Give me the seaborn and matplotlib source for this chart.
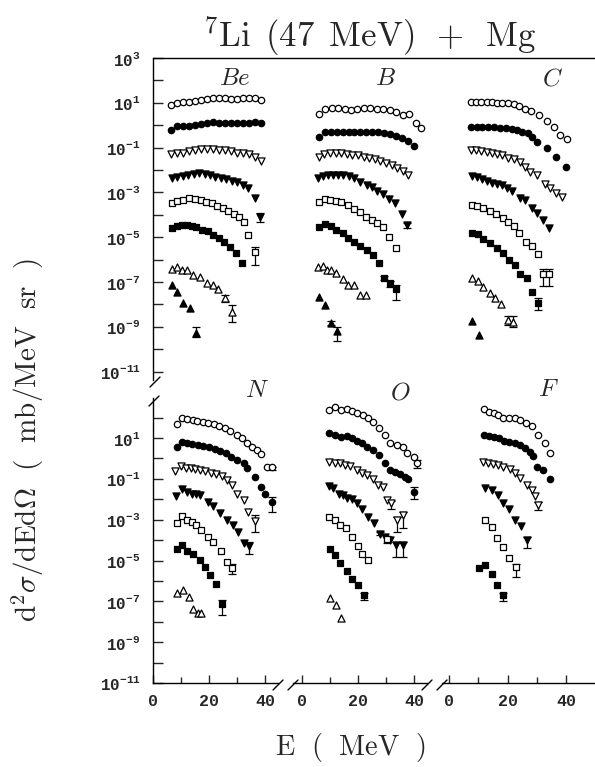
import numpy as np
import pandas as pd
import matplotlib
matplotlib.use("Agg")
import matplotlib.pyplot as plt
import seaborn as sns
from matplotlib.lines import Line2D
from matplotlib.ticker import NullLocator, FixedLocator

sns.set_style("white")
plt.rcParams["font.family"] = ["Liberation Mono", "DejaVu Sans"]
plt.rcParams["mathtext.fontset"] = "cm"

# ---------------- data : Be ----------------
be_oc_E = [6.4, 8.5, 10.6, 12.8, 15.0, 17.1, 19.2, 21.4, 23.5, 25.6, 27.8, 29.9, 32.1, 34.2, 36.4, 38.5]
be_oc_V = [8, 10, 11, 11, 12, 13, 15, 16, 16, 16, 15, 15, 16, 16, 17, 14]
be_fc_E = [6.4, 8.5, 10.6, 12.8, 15.0, 17.1, 19.2, 21.4, 23.5, 25.6, 27.8, 29.9, 32.1, 34.2, 36.4, 38.5]
be_fc_V = [0.6, 0.9, 0.9, 0.9, 1.0, 1.1, 1.2, 1.4, 1.3, 1.3, 1.3, 1.2, 1.2, 1.3, 1.4, 1.2]
be_odt_E = [6.4, 8.5, 10.6, 12.8, 15.0, 17.1, 19.2, 21.4, 23.5, 25.6, 27.8, 29.9, 32.1, 34.2, 36.4, 38.5]
be_odt_V = [0.05, 0.06, 0.06, 0.07, 0.08, 0.09, 0.09, 0.09, 0.08, 0.08, 0.07, 0.06, 0.06, 0.05, 0.04, 0.025]
be_fdt_E = [6.8, 8.7, 10.7, 12.6, 14.6, 16.5, 18.4, 20.4, 22.3, 24.3, 26.2, 28.1, 30.1, 32.0, 34.0, 36.4, 38.2]
be_fdt_V = [4.3e-3, 5e-3, 5.5e-3, 6e-3, 6.5e-3, 7e-3, 6.5e-3, 6e-3, 5e-3, 4.5e-3, 4e-3, 3.3e-3, 2.8e-3, 2.2e-3, 1.5e-3, 5.5e-4, 8.3e-5]
be_os_E = [6.7, 8.7, 10.8, 13.0, 15.0, 17.0, 18.9, 21.0, 23.0, 25.1, 26.9, 28.9, 30.8, 32.5, 34.0, 36.4]
be_os_V = [3.5e-4, 4e-4, 4.5e-4, 5.5e-4, 5e-4, 4.5e-4, 3.8e-4, 3.2e-4, 2.6e-4, 2e-4, 1.5e-4, 1.1e-4, 8e-5, 5e-5, 1.3e-5, 2.2e-6]
be_fs_E = [6.8, 8.5, 10.3, 12.0, 13.8, 15.5, 17.5, 19.5, 21.5, 23.5, 25.5, 27.5, 29.5, 31.7]
be_fs_V = [2.7e-5, 3.2e-5, 3.5e-5, 3.5e-5, 3.3e-5, 2.8e-5, 2.2e-5, 1.8e-5, 1.3e-5, 9e-6, 6e-6, 3.5e-6, 2e-6, 7e-7]
be_out_E = [6.7, 8.5, 10.2, 12.0, 14.4, 16.8, 19.2, 21.3, 23.3, 25.7, 28.1]
be_out_V = [4e-7, 4.5e-7, 3.5e-7, 3.3e-7, 2e-7, 1.7e-7, 8.7e-8, 7.4e-8, 4.7e-8, 1.9e-8, 4.7e-9]
be_fut_E = [6.7, 8.7, 10.8, 13.1, 15.2]
be_fut_V = [7.4e-8, 3.7e-8, 1.2e-8, 6.6e-9, 5.1e-10]

# ---------------- data : B ----------------
b_oc_E = [6.0, 8.3, 10.6, 12.9, 15.2, 17.5, 19.8, 22.1, 24.4, 26.7, 29.0, 31.3, 33.6, 35.9, 38.2, 40.5, 42.6]
b_oc_V = [3.1, 5.3, 5.6, 5.6, 5.3, 5.0, 5.3, 5.6, 5.6, 5.5, 5.3, 4.6, 4.0, 2.9, 3.2, 1.3, 0.72]
b_fc_E = [6.0, 8.1, 10.2, 12.4, 14.5, 16.6, 18.7, 20.8, 23.0, 25.1, 27.2, 29.3, 31.4, 33.6, 35.7, 37.8, 39.9]
b_fc_V = [0.31, 0.48, 0.52, 0.52, 0.52, 0.52, 0.52, 0.5, 0.5, 0.5, 0.48, 0.45, 0.4, 0.34, 0.28, 0.2, 0.12]
b_odt_E = [6.0, 8.0, 10.0, 12.0, 14.0, 16.0, 18.0, 20.0, 22.0, 24.0, 26.0, 28.0, 30.0, 32.0, 34.0, 36.0, 37.9]
b_odt_V = [0.039, 0.05, 0.055, 0.055, 0.055, 0.05, 0.048, 0.045, 0.04, 0.035, 0.03, 0.025, 0.02, 0.016, 0.012, 0.009, 0.006]
b_fdt_E = [5.8, 7.6, 9.4, 11.2, 13.0, 14.8, 16.6, 18.4, 20.7, 23.1, 24.9, 26.9, 29.0, 31.2, 33.2, 35.6, 37.4]
b_fdt_V = [4.3e-3, 5.2e-3, 6e-3, 6e-3, 6e-3, 5.8e-3, 5.2e-3, 4.6e-3, 3.0e-3, 2.2e-3, 1.7e-3, 1.2e-3, 8.5e-4, 4.9e-4, 3.5e-4, 1.1e-4, 3.5e-5]
b_os_E = [6.2, 8.2, 10.0, 12.0, 14.1, 16.5, 18.5, 20.7, 22.8, 24.9, 26.9, 29.0, 31.2, 33.5]
b_os_V = [3.6e-4, 4.9e-4, 4.6e-4, 4e-4, 3.6e-4, 2.7e-4, 1.9e-4, 1.3e-4, 8e-5, 5.9e-5, 4.3e-5, 3e-5, 1.05e-5, 3.4e-6]
b_fs_E = [6.2, 8.2, 10.2, 12.3, 14.5, 16.5, 18.5, 20.7, 23.1, 25.2, 27.3, 29.3, 31.4, 33.6]
b_fs_V = [3e-5, 3.9e-5, 3.2e-5, 2.2e-5, 1.6e-5, 9.5e-6, 6.3e-6, 4.1e-6, 2.7e-6, 1.6e-6, 7.3e-7, 1.45e-7, 8.6e-8, 4.7e-8]
b_out_E = [5.8, 7.6, 9.0, 10.5, 12.3, 14.5, 16.5, 18.5, 20.7, 22.8]
b_out_V = [4.5e-7, 5.1e-7, 3.6e-7, 3.5e-7, 2.4e-7, 1.3e-7, 7.4e-8, 7e-8, 2.6e-8, 2.6e-8]
b_fut_E = [6.2, 8.2, 10.2, 12.6]
b_fut_V = [2.2e-8, 9.3e-9, 1.5e-9, 6.4e-10]

# ---------------- data : C ----------------
c_oc_E = [7.4, 9.2, 11.0, 12.8, 14.6, 16.4, 18.2, 20.0, 22.0, 24.0, 26.0, 28.0, 30.7, 33.3, 35.9, 37.8, 40.4]
c_oc_V = [10.5, 10.5, 10.5, 10.5, 10.5, 10.2, 10, 9.5, 8.5, 7, 5.5, 4.3, 2.9, 1.6, 0.85, 0.36, 0.23]
c_fc_E = [7.4, 9.4, 11.4, 13.4, 15.4, 17.4, 19.4, 21.4, 23.2, 25.0, 26.8, 28.4, 30.0, 33.3, 36.5, 39.8]
c_fc_V = [0.85, 0.85, 0.82, 0.82, 0.8, 0.78, 0.72, 0.65, 0.58, 0.5, 0.44, 0.3, 0.18, 0.093, 0.039, 0.014]
c_odt_E = [7.4, 9.2, 11.0, 12.8, 14.6, 16.4, 18.2, 20.0, 22.0, 24.2, 26.0, 27.6, 29.9, 32.8, 34.5, 36.5, 38.5]
c_odt_V = [0.077, 0.075, 0.07, 0.065, 0.06, 0.05, 0.045, 0.035, 0.03, 0.023, 0.013, 8.4e-3, 6e-3, 2.3e-3, 1.5e-3, 9.7e-4, 6e-4]
c_fdt_E = [7.7, 9.4, 11.2, 12.9, 14.6, 16.3, 18.0, 19.7, 21.4, 24.2, 25.9, 28.2, 30.1, 32.2, 34.2]
c_fdt_V = [5.3e-3, 4.7e-3, 3.8e-3, 3.3e-3, 2.7e-3, 2.3e-3, 2.1e-3, 1.5e-3, 1.2e-3, 5.5e-4, 4.5e-4, 1.95e-4, 1.2e-4, 5.9e-5, 2.5e-5]
c_os_E = [7.7, 9.4, 11.7, 14.0, 16.0, 18.3, 20.2, 22.2, 24.0, 26.3, 28.2, 30.5, 32.2, 34.2]
c_os_V = [2.7e-4, 2.5e-4, 1.95e-4, 1.5e-4, 1.1e-4, 7e-5, 4.9e-5, 3.3e-5, 1.6e-5, 6.3e-6, 4.1e-6, 1.8e-6, 2.3e-7, 2.3e-7]
c_fs_E = [7.7, 10.0, 11.7, 14.0, 16.3, 18.3, 20.6, 22.5, 24.2, 26.5, 28.2, 30.5]
c_fs_V = [1.6e-5, 1.4e-5, 8e-6, 5.6e-6, 3.2e-6, 1.9e-6, 9.6e-7, 5.8e-7, 2.3e-7, 1.45e-7, 3.7e-8, 1.1e-8]
c_out_E = [7.9, 9.8, 11.5, 14.0, 15.6, 17.6, 20.2, 21.9]
c_out_V = [1.45e-7, 1.1e-7, 6.2e-8, 3.3e-8, 1.9e-8, 1e-8, 2e-9, 1.7e-9]
c_fut_E = [7.9, 10.2]
c_fut_V = [1.9e-9, 4.3e-10]

# ---------------- data : N ----------------
n_oc_E = [8.5, 10.2, 12.0, 14.2, 15.8, 17.7, 19.8, 21.8, 23.7, 25.7, 27.5, 29.9, 31.7, 33.5, 35.2, 37.0, 38.5, 40.6, 42.4]
n_oc_V = [49, 93, 85, 76, 70, 63, 56, 49, 40, 30, 22, 14, 10, 5.9, 3.8, 2.6, 1.6, 0.39, 0.36]
n_fc_E = [8.5, 10.2, 12.0, 14.0, 16.0, 18.0, 20.0, 22.0, 24.0, 26.0, 28.0, 29.9, 32.3, 33.7, 36.4, 38.5, 40.0, 42.4]
n_fc_V = [3.5, 6.6, 5.9, 5.3, 4.8, 4.2, 3.6, 3.0, 2.4, 1.8, 1.2, 0.83, 0.57, 0.33, 0.126, 0.041, 0.019, 7.6e-3]
n_odt_E = [7.9, 9.9, 11.8, 13.5, 15.0, 16.8, 18.6, 20.6, 22.5, 24.5, 26.3, 28.1, 30.1, 32.3, 34.0, 36.4]
n_odt_V = [0.25, 0.43, 0.33, 0.33, 0.3, 0.27, 0.23, 0.2, 0.17, 0.138, 0.088, 0.05, 0.019, 9.2e-3, 2.4e-3, 8.9e-4]
n_fdt_E = [8.2, 10.2, 12.0, 13.8, 15.4, 16.8, 19.8, 21.5, 23.9, 26.5, 28.5, 30.5, 32.5, 34.4]
n_fdt_V = [0.0145, 0.031, 0.023, 0.019, 0.019, 0.016, 7.6e-3, 4.7e-3, 2.2e-3, 1.0e-3, 5.5e-4, 2.6e-4, 7.4e-5, 5.1e-5]
n_os_E = [8.5, 10.2, 12.0, 13.8, 15.5, 17.3, 19.8, 21.5, 24.2, 26.5, 28.3]
n_os_V = [7.1e-4, 1.5e-3, 9.5e-4, 7.9e-4, 5.5e-4, 3.3e-4, 1.4e-4, 8.3e-5, 3e-5, 8.7e-6, 4.1e-6]
n_fs_E = [8.5, 10.2, 12.2, 14.2, 16.6, 18.6, 20.4, 22.5, 24.5]
n_fs_V = [3.5e-5, 5.6e-5, 3e-5, 2.1e-5, 1.05e-5, 4.9e-6, 1.9e-6, 6.9e-7, 7.2e-8]
n_out_E = [8.5, 10.7, 12.7, 14.4, 15.9, 17.0]
n_out_V = [2.5e-7, 3.5e-7, 1.55e-7, 4e-8, 2.7e-8, 2.7e-8]

# ---------------- data : O ----------------
o_oc_E = [9.8, 11.8, 13.8, 16.0, 17.7, 19.5, 21.7, 23.7, 25.5, 27.6, 29.6, 31.4, 33.8, 36.0, 37.6, 39.8, 41.0]
o_oc_V = [236, 340, 236, 256, 200, 163, 130, 93, 63, 30, 14, 5.5, 4.8, 3.5, 1.9, 1.2, 0.57]
o_fc_E = [9.8, 11.8, 13.8, 16.0, 17.7, 19.5, 21.3, 23.1, 25.2, 27.6, 29.6, 31.4, 33.2, 35.0, 36.8, 37.9, 39.8]
o_fc_V = [17, 14, 11.6, 12, 9.6, 7.4, 5.5, 3.8, 2.6, 1.47, 0.57, 0.27, 0.22, 0.17, 0.126, 0.093, 0.023]
o_odt_E = [9.8, 11.8, 13.5, 15.3, 17.0, 19.5, 21.3, 23.1, 25.2, 27.2, 29.0, 30.2, 31.7, 34.0, 36.2]
o_odt_V = [0.69, 0.57, 0.57, 0.48, 0.43, 0.27, 0.2, 0.155, 0.093, 0.05, 0.038, 9.2e-3, 6.3e-3, 9.5e-4, 1.7e-3]
o_fdt_E = [9.8, 11.2, 13.3, 14.8, 16.2, 17.7, 19.5, 21.3, 23.7, 25.7, 27.9, 29.6, 31.4, 33.5, 35.9]
o_fdt_V = [0.045, 0.034, 0.019, 0.016, 0.012, 0.01, 6.3e-3, 3.2e-3, 1.4e-3, 6.6e-4, 2.1e-4, 1.35e-4, 1e-4, 5.6e-5, 5.6e-5]
o_os_E = [9.8, 11.8, 13.5, 15.6, 17.7, 20.0, 21.5, 23.7, 30.2]
o_os_V = [1.3e-3, 9.5e-4, 5.5e-4, 3.7e-4, 1.45e-4, 5.1e-5, 2.2e-5, 1.1e-5, 1.07e-4]
o_fs_E = [10.0, 11.8, 13.5, 16.0, 17.7, 20.0, 22.0]
o_fs_V = [3.5e-5, 1.8e-5, 7.2e-6, 3.2e-6, 1.3e-6, 6.3e-7, 2e-7]
o_out_E = [10.0, 12.1, 13.8]
o_out_V = [1.4e-7, 6.5e-8, 1.45e-8]

# ---------------- data : F ----------------
f_oc_E = [11.9, 13.8, 15.4, 16.8, 18.5, 20.6, 22.5, 24.2, 26.3, 28.2, 30.5, 32.8, 34.5]
f_oc_V = [256, 195, 163, 134, 93, 93, 93, 76, 52, 39, 14, 5.5, 1.78]
f_fc_E = [11.9, 13.8, 15.4, 17.2, 18.8, 20.6, 22.5, 24.2, 25.9, 27.6, 28.8, 29.9, 32.2, 34.5]
f_fc_V = [14, 12.6, 11.6, 9.6, 7.4, 6.6, 5.5, 4.5, 3.1, 2.1, 1.3, 0.39, 0.27, 0.093]
f_odt_E = [11.7, 13.4, 15.1, 16.8, 18.5, 20.8, 22.5, 24.2, 26.5, 28.2, 29.4, 30.5]
f_odt_V = [0.69, 0.62, 0.53, 0.48, 0.39, 0.29, 0.185, 0.104, 0.05, 0.028, 0.0145, 5.2e-3]
f_fdt_E = [12.3, 14.6, 16.8, 18.5, 20.6, 22.5, 24.5, 26.5]
f_fdt_V = [0.034, 0.028, 0.016, 6.3e-3, 3.2e-3, 1.0e-3, 4.9e-4, 1e-4]
f_os_E = [12.3, 14.6, 16.3, 18.5, 20.6, 22.9]
f_os_V = [1.0e-3, 4.5e-4, 1.2e-4, 4.4e-5, 1.26e-5, 4.6e-6]
f_fs_E = [10.3, 12.3, 14.6, 16.3, 18.5]
f_fs_V = [4.1e-6, 5.9e-6, 2.1e-6, 6.3e-7, 2e-7]

# ---------------- error bars ----------------
err_panel = ["Be", "Be", "Be", "Be", "Be", "B", "B", "B", "B", "B", "B", "C", "C", "C", "C", "C",
             "N", "N", "N", "N", "N", "N", "O", "O", "O", "O", "O", "O", "O", "O", "O", "O",
             "F", "F", "F", "F"]
err_E = [38.2, 36.4, 25.7, 28.1, 15.2, 37.4, 29.3, 31.4, 33.6, 10.2, 12.6, 32.2, 34.2, 30.5, 20.2, 21.9,
         42.4, 42.4, 36.4, 34.4, 28.3, 24.5, 41.0, 39.8, 31.7, 34.0, 36.2, 33.5, 35.9, 27.9, 30.2, 22.0,
         30.5, 26.5, 22.9, 18.5]
err_V = [8.3e-5, 2.2e-6, 1.9e-8, 4.7e-9, 5.1e-10, 3.5e-5, 1.45e-7, 8.6e-8, 4.7e-8, 1.5e-9, 6.4e-10,
         2.3e-7, 2.3e-7, 1.1e-8, 2e-9, 1.7e-9,
         0.36, 7.6e-3, 8.9e-4, 5.1e-5, 4.1e-6, 7.2e-8, 0.57, 0.023, 6.3e-3, 9.5e-4, 1.7e-3, 5.6e-5, 5.6e-5,
         2.1e-4, 1.07e-4, 2e-7,
         5.2e-3, 1e-4, 4.6e-6, 2e-7]
err_lo = [4.9e-5, 5.7e-7, 1.3e-8, 1.7e-9, 3.6e-10, 2.5e-5, 1.2e-7, 6e-8, 1.6e-8, 1.2e-9, 2.4e-10,
          6.6e-8, 6.6e-8, 5.6e-9, 1.2e-9, 1e-9,
          0.28, 2.5e-3, 2.6e-4, 2.2e-5, 2.3e-6, 2.1e-8, 0.35, 0.01, 3.5e-3, 2.6e-4, 4e-4, 1.5e-5, 1.5e-5,
          1.7e-4, 7e-5, 1.2e-7,
          3e-3, 4e-5, 1.5e-6, 1e-7]
err_hi = [1.2e-4, 3.8e-6, 2.6e-8, 9.3e-9, 9.5e-10, 4.5e-5, 1.8e-7, 1.1e-7, 7.4e-8, 1.8e-9, 1e-9,
          3.7e-7, 3.7e-7, 1.9e-8, 3e-9, 3e-9,
          0.4, 1.3e-2, 1.7e-3, 8.3e-5, 7e-6, 1.2e-7, 0.8, 0.04, 8e-3, 1.4e-3, 2.5e-3, 8e-5, 8e-5,
          2.6e-4, 1.5e-4, 2.6e-7,
          7e-3, 1.4e-4, 7e-6, 2.6e-7]

panel_names = ["Be", "B", "C", "N", "O", "F"]
series_keys = ["oc", "fc", "odt", "fdt", "os", "fs", "out", "fut"]
prefix = {"Be": "be", "B": "b", "C": "c", "N": "n", "O": "o", "F": "f"}

# ---------------- layout (pixels) ----------------
W, H = 595, 767
fig = plt.figure(figsize=(W / 100, H / 100), dpi=100)
fig.patch.set_facecolor("white")

ROW_PX = [(58, 380), (398, 683)]
COL_PX = [(153, 278), (293, 427), (442, 595)]
XLIM = [(0, 44.6), (-3.2, 44.6), (-2.4, 49.8)]
YLIM = [(10 ** -11.375, 1e3), (1e-11, 10 ** 2.96)]
LABEL_PX = {"Be": (235, 78), "B": (385, 78), "C": (552, 78),
            "N": (257, 390), "O": (400, 392), "F": (548, 389)}

STYLE = {"oc": ("o", False, 21), "fc": ("o", True, 21),
         "odt": ("v", False, 26), "fdt": ("v", True, 26),
         "os": ("s", False, 18), "fs": ("s", True, 18),
         "out": ("^", False, 26), "fut": ("^", True, 26)}


def fx(px):
    return px / W


def fy(py):
    return 1 - py / H


g = globals()
for i, name in enumerate(panel_names):
    r, c = divmod(i, 3)
    y0, y1 = ROW_PX[r]
    x0, x1 = COL_PX[c]
    ax = fig.add_axes([fx(x0), fy(y1), (x1 - x0) / W, (y1 - y0) / H])
    ax.set_facecolor("none")
    ax.set_yscale("log")

    for key in series_keys:
        en, vn = f"{prefix[name]}_{key}_E", f"{prefix[name]}_{key}_V"
        if en not in g:
            continue
        df = pd.DataFrame({"E": g[en], "V": g[vn]})
        marker, filled, s = STYLE[key]
        sns.scatterplot(data=df, x="E", y="V", ax=ax, marker=marker, s=s,
                        color="black", legend=False, zorder=3)
        coll = ax.collections[-1]
        coll.set_facecolor("black" if filled else "white")
        coll.set_edgecolor("black")
        coll.set_linewidth(0.9)

    idx = [k for k, p in enumerate(err_panel) if p == name]
    if idx:
        E = np.array([err_E[k] for k in idx])
        V = np.array([err_V[k] for k in idx])
        lo = np.array([err_lo[k] for k in idx])
        hi = np.array([err_hi[k] for k in idx])
        ax.errorbar(E, V, yerr=[V - lo, hi - V], fmt="none", ecolor="black",
                    elinewidth=0.9, capsize=3, capthick=0.9, zorder=2)

    ax.set_xlim(*XLIM[c])
    ax.set_ylim(*YLIM[r])
    ax.set_xlabel("")
    ax.set_ylabel("")
    ax.grid(False)
    for sp in ax.spines.values():
        sp.set_visible(False)
        sp.set_color("black")
        sp.set_linewidth(1.0)

    # y axis
    ax.yaxis.set_minor_locator(NullLocator())
    if c == 0:
        ax.spines["left"].set_visible(True)
        top_exp = 3 if r == 0 else 2
        exps = list(range(-11, top_exp + 1))
        ax.yaxis.set_major_locator(FixedLocator([10.0 ** k for k in exps]))
        ax.set_yticklabels([r"$\mathregular{10^{%d}}$" % k if k % 2 else "" for k in exps])
        ax.tick_params(axis="y", direction="in", length=7, width=1.0, pad=9,
                       labelsize=11.5, left=True, right=False)
    else:
        ax.set_yticks([])
        ax.tick_params(axis="y", left=False, labelleft=False)

    # x axis
    if r == 1:
        ax.spines["bottom"].set_visible(True)
        ax.set_xticks([0, 20, 40])
        ax.set_xticklabels(["0", "20", "40"])
        ax.xaxis.set_minor_locator(FixedLocator([10, 30]))
        ax.tick_params(axis="x", which="major", direction="in", length=6, width=1.0,
                       pad=8, labelsize=12, bottom=True, top=False)
        ax.tick_params(axis="x", which="minor", direction="in", length=4, width=1.0,
                       bottom=True, top=False)
    else:
        ax.set_xticks([])
        ax.tick_params(axis="x", bottom=False, labelbottom=False)
    for lab in ax.get_xticklabels() + ax.get_yticklabels():
        lab.set_fontweight("bold")

    lx, ly = LABEL_PX[name]
    fig.text(fx(lx), fy(ly), r"$%s$" % name, ha="center", va="center", fontsize=18)

# continuous top frame line
fig.add_artist(Line2D([fx(153), fx(595)], [fy(58), fy(58)], color="black", lw=1.0))


# break marks
def slash(xc, yc, d=5):
    fig.add_artist(Line2D([fx(xc - d), fx(xc + d)], [fy(yc + d), fy(yc - d)],
                          color="black", lw=1.0))


for (xc, yc) in [(155, 382), (154, 401), (278, 685), (293, 685), (427, 685), (442, 685)]:
    slash(xc, yc)

fig.text(fx(369), fy(36), r"$^{7}\mathrm{Li\ \,(47\ \,MeV)\ \,+\ \,Mg}$",
         ha="center", va="center", fontsize=25)
fig.text(fx(28), fy(440), r"$\mathrm{d^{2}\sigma/dEd\Omega\ \ (\ \ mb/MeV\ \ sr\ \ )}$",
         ha="center", va="center", rotation=90, fontsize=21)
fig.text(fx(350), fy(748), r"$\mathrm{E\ \ (\ \ MeV\ \ )}$",
         ha="center", va="center", fontsize=20.5)

fig.savefig("out.png", dpi=100, facecolor="white")
